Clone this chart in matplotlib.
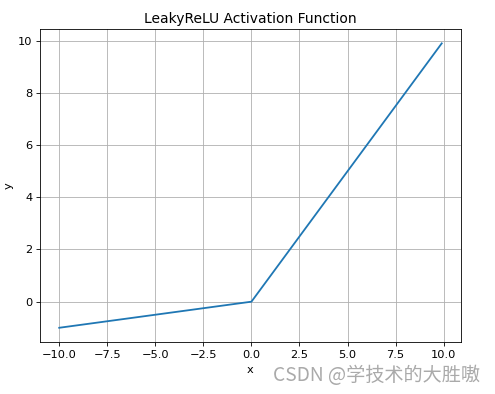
import matplotlib
matplotlib.use('Agg')
import matplotlib.pyplot as plt

# LeakyReLU breakpoints (slope 0.1 below zero)
x_vals = [-10.0, 0.0, 9.9]
y_vals = [-1.0, 0.0, 9.9]

fig = plt.figure(figsize=(4.95, 3.94), dpi=100)
ax = fig.add_axes([0.081, 0.132, 0.850, 0.794])

ax.plot(x_vals, y_vals, color='tab:blue', linewidth=1.3)
ax.set_title('LeakyReLU Activation Function', fontsize=10, pad=4.5)
ax.set_xlabel('x', fontsize=8.2, labelpad=4)
ax.set_ylabel('y', fontsize=8.2, labelpad=3)
ax.tick_params(labelsize=8.2, length=2.8, width=0.6, pad=2.8)
ax.grid(True, linewidth=0.6, color='#b0b0b0')
for s in ax.spines.values():
    s.set_linewidth(0.6)

# watermark
fig.text(0.97, 0.048, 'CSDN @学技术的大胜嗷', ha='right', va='center',
         fontsize=13.8, color='#aaaaaa',
         family=['Noto Sans CJK SC', 'DejaVu Sans'])

fig.savefig('out.png', dpi=100)
